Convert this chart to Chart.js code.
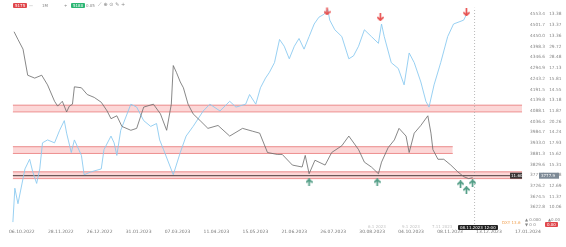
<!DOCTYPE html>
<html>
<head>
<meta charset="utf-8">
<script src="https://cdn.jsdelivr.net/npm/chart.js@4.4.1/dist/chart.umd.min.js"></script>
<style>
  html, body { margin: 0; padding: 0; background: #fff; }
  #wrap { position: relative; width: 566px; height: 247px; overflow: hidden; }
  canvas { display: block; }
  .ov { position: absolute; font-family: "DejaVu Sans", sans-serif; font-size: 4px; line-height: 5px; color: #888; white-space: nowrap; }
  .box { padding: 0 2px; color: #fff; border-radius: 1px; }
</style>
</head>
<body>
<div id="wrap">
  <canvas id="chart" width="566" height="247"></canvas>
  <!-- toolbar -->
  <div class="ov box" style="left:13px;top:3px;background:#e0474c;">5175</div>
  <div class="ov" style="left:29px;top:3px;">—</div>
  <div class="ov" style="left:42px;top:3px;">1M</div>
  <div class="ov" style="left:64px;top:3px;">+</div>
  <div class="ov box" style="left:71px;top:3px;background:#2bb673;">5180</div>
  <div class="ov" style="left:86px;top:3px;">0.05</div>
  <div class="ov" style="left:98px;top:2px;font-size:5px;">⟋ ⊕ ⊙ ✎ +</div>
  <!-- bottom right -->
  <div class="ov" style="left:502px;top:220px;color:#f0a050;">DXY 13.6</div>
  <div class="ov" style="left:525px;top:217px;">▲ 0.000</div>
  <div class="ov" style="left:525px;top:222px;">▼ 0 0</div>
  <div class="ov" style="left:548px;top:217px;">▲0.00</div>
  <div class="ov box" style="left:545px;top:222px;background:#e0474c;">0.00</div>
  <div class="ov box" style="left:458px;top:225px;background:#222;">08.11.2023 12:00</div>
  <div class="ov" style="left:368px;top:224px;color:#c4c4c4;">6.1 2023</div>
  <div class="ov" style="left:402px;top:224px;color:#c4c4c4;">9.1 2023</div>
  <div class="ov" style="left:432px;top:224px;color:#c4c4c4;">7.11 2023</div>
</div>
<script>
// x axis: 10 units per date label
const dateLabels = ["06.10.2022", "28.11.2022", "26.12.2022", "31.01.2023", "07.03.2023", "11.04.2023", "15.05.2023",
  "21.06.2023", "26.07.2023", "30.08.2023", "04.10.2023", "08.11.2023", "13.12.2023", "17.01.2024"];
const datePos = [0, 10, 20, 30, 40, 50, 60, 70, 80, 90, 100, 110, 120, 130];

const priceTicks = [4553.4, 4501.7, 4450.0, 4398.3, 4346.6, 4294.9, 4243.2, 4191.5, 4139.8, 4088.1,
  4036.4, 3984.7, 3933.0, 3881.3, 3829.6, 3777.9, 3726.2, 3674.5, 3622.8];
const ratioTicks = ["13.38", "13.37", "13.36", "29.72", "28.48", "17.13", "15.81", "14.55", "13.18", "11.87",
  "20.26", "14.24", "17.93", "15.62", "15.31", "14.08", "12.69", "11.37", "10.06"];

// light blue series
const blueX = [-2.3, -1.8, -1.0, 0.8, 2.0, 2.8, 3.8, 4.6, 5.3, 6.6, 8.4, 9.7, 10.9, 11.5, 12.7, 13.5, 15.3, 16.0, 17.8,
  20.4, 21.1, 22.9, 23.7, 24.4, 25.4, 28.0, 29.5, 31.3, 33.1, 34.6, 35.4, 36.4, 38.9, 40.7, 42.2, 44.0, 46.6, 48.3,
  50.9, 53.4, 55.0, 57.5, 58.5, 60.1, 61.3, 62.6, 63.6, 64.9, 66.2, 67.4, 68.7, 70.0, 71.2, 72.5, 73.8, 75.1, 76.3,
  77.6, 78.6, 79.1, 80.4, 82.2, 84.0, 85.2, 86.5, 88.0, 89.8, 91.6, 92.4, 93.1, 94.9, 96.7, 98.2, 99.5, 100.8, 102.5,
  103.8, 104.6, 105.9, 107.6, 109.4, 110.9, 113.5, 114.5];
const blueY = [3551.9, 3715.0, 3640.4, 3808.1, 3854.7, 3794.1, 3738.2, 3808.1, 3933.9, 3947.9, 3933.9, 3994.4, 4041.0,
  3980.5, 3887.3, 3947.9, 3873.3, 3780.2, 3794.1, 3808.1, 3901.3, 3966.5, 3933.9, 3873.3, 3994.4, 4120.2, 4106.2,
  4041.0, 4013.1, 4027.0, 3947.9, 3901.3, 3780.2, 3887.3, 3966.5, 4013.1, 4087.6, 4120.2, 4087.6, 4134.2, 4106.2,
  4120.2, 4166.8, 4120.2, 4199.4, 4246.0, 4273.9, 4320.5, 4432.3, 4399.7, 4339.1, 4399.7, 4436.9, 4385.7, 4446.3,
  4506.8, 4539.4, 4553.4, 4576.7, 4525.4, 4478.9, 4446.3, 4339.1, 4353.1, 4399.7, 4478.9, 4446.3, 4413.7, 4506.8,
  4446.3, 4320.5, 4292.5, 4213.4, 4367.1, 4320.5, 4227.3, 4134.2, 4106.2, 4213.4, 4320.5, 4446.3, 4506.8, 4525.4, 4562.7];

// dark series
const darkX = [-2.0, -1.0, 0.3, 1.5, 3.3, 5.1, 6.6, 8.4, 9.2, 10.4, 11.5, 12.2, 13.0, 13.5, 15.3, 16.8, 18.6, 20.4,
  21.9, 22.9, 24.4, 25.7, 28.0, 29.5, 31.3, 33.8, 35.6, 37.2, 38.4, 38.9, 39.7, 40.7, 41.5, 42.7, 44.0, 45.8, 47.8,
  50.4, 53.4, 56.7, 59.3, 61.1, 63.1, 65.6, 66.9, 69.5, 72.0, 72.8, 73.8, 75.3, 77.9, 79.6, 82.2, 84.0, 86.5, 88.0,
  89.8, 91.6, 92.4, 94.1, 95.7, 96.9, 98.7, 99.5, 100.8, 102.5, 104.3, 105.1, 105.6, 106.9, 108.4, 110.2, 112.0,
  113.5, 114.8, 115.8];
const darkY = [4469.5, 4432.3, 4385.7, 4259.9, 4246.0, 4259.9, 4213.4, 4134.2, 4110.9, 4134.2, 4082.9, 4110.9, 4120.2,
  4204.0, 4199.4, 4166.8, 4152.8, 4129.5, 4087.6, 4050.3, 4064.3, 4013.1, 3994.4, 4003.7, 4106.2, 4120.2, 4073.6,
  3994.4, 4120.2, 4306.5, 4273.9, 4227.3, 4199.4, 4120.2, 4073.6, 4041.0, 4003.7, 4017.7, 3966.5, 4003.7, 3989.8,
  3980.5, 3887.3, 3878.0, 3878.0, 3826.7, 3817.4, 3873.3, 3784.8, 3850.0, 3826.7, 3887.3, 3919.9, 3966.5, 3901.3,
  3840.7, 3817.4, 3784.8, 3840.7, 3910.6, 3947.9, 4003.7, 3966.5, 3887.3, 3980.5, 4017.7, 4064.3, 3980.5, 3901.3,
  3854.7, 3854.7, 3826.7, 3794.1, 3770.8, 3761.5, 3766.2];

// zones
const zoneTop = [4115.5, 3915.2, 3794.1];
const zoneBottom = [4083.0, 3882.6, 3761.5];
const zoneStart = [-2.3, -2.3, -2.3];
const zoneEnd = [128.5, 110.7, 128.5];
const levelLine = 3775.5;
const crossX = 116.3;

// arrows
const topArrowX = [78.4, 92.1, 114.2];
const topArrowY = [4567.4, 4539.4, 4562.7];
const lowArrowX = [73.8, 91.3, 112.7, 114.2, 115.8];
const lowArrowY = [3743.0, 3743.0, 3733.6, 3705.6, 3738.2];

const yMin = 3542.6, yMax = 4586.0;
const xMin = -4.33, xMax = 129.26;

function arrowImg(color, down) {
  const c = document.createElement("canvas");
  c.width = 7; c.height = 8;
  const g = c.getContext("2d");
  g.strokeStyle = color; g.lineWidth = 1.7; g.lineCap = "round";
  g.beginPath();
  if (down) {
    g.moveTo(3.5, 0.5); g.lineTo(3.5, 7);
    g.moveTo(0.9, 4.3); g.lineTo(3.5, 7); g.lineTo(6.1, 4.3);
  } else {
    g.moveTo(3.5, 7.5); g.lineTo(3.5, 1);
    g.moveTo(0.9, 3.7); g.lineTo(3.5, 1); g.lineTo(6.1, 3.7);
  }
  g.stroke();
  return c;
}

const pts = (xs, ys) => xs.map((x, i) => ({ x, y: ys[i] }));

const datasets = [
  { data: pts(darkX, darkY), borderColor: "#6a6a6a", borderWidth: 0.8, pointRadius: 0, order: 1 },
  { data: pts(blueX, blueY), borderColor: "#8ccbf0", borderWidth: 0.9, pointRadius: 0, order: 2 },
  { data: pts(topArrowX, topArrowY), showLine: false, pointStyle: arrowImg("#e8504f", true), order: 0 },
  { data: pts(lowArrowX, lowArrowY), showLine: false, pointStyle: arrowImg("#4f9c84", false), order: 0 },
  { data: [{ x: zoneStart[0], y: levelLine }, { x: zoneEnd[0], y: levelLine }], borderColor: "#4a3a3a", borderWidth: 1, pointRadius: 0, order: 3 },
  { data: [{ x: crossX, y: yMin }, { x: crossX, y: yMax }], borderColor: "#aaa", borderWidth: 0.8, borderDash: [1, 2], pointRadius: 0, order: 3 }
];
zoneTop.forEach((t, i) => {
  datasets.push({
    data: [{ x: zoneStart[i], y: t }, { x: zoneEnd[i], y: t }],
    borderColor: "rgba(225,90,90,0.85)", borderWidth: 0.8, pointRadius: 0,
    fill: "+1", backgroundColor: "rgba(246,150,150,0.38)", order: 5
  });
  datasets.push({
    data: [{ x: zoneStart[i], y: zoneBottom[i] }, { x: zoneEnd[i], y: zoneBottom[i] }],
    borderColor: "rgba(225,90,90,0.85)", borderWidth: 0.8, pointRadius: 0, order: 5
  });
});

const tagPlugin = {
  id: "tags",
  afterDraw(chart) {
    const ctx = chart.ctx;
    const y = chart.scales.y.getPixelForValue(levelLine);
    const xr = chart.scales.x.getPixelForValue(zoneEnd[0]);
    ctx.save();
    ctx.font = "4px DejaVu Sans";
    ctx.textBaseline = "middle";
    ctx.fillStyle = "#3a3535";
    ctx.fillRect(xr - 12, y - 3, 12, 6);
    ctx.fillStyle = "#fff";
    ctx.fillText("11.60", xr - 11, y);
    ctx.fillStyle = "#7d8a96";
    ctx.fillRect(539, y - 3, 20, 6);
    ctx.fillStyle = "#fff";
    ctx.fillText("3777.9", 541, y);
    ctx.restore();
  }
};

new Chart(document.getElementById("chart"), {
  type: "line",
  data: { datasets },
  plugins: [tagPlugin],
  options: {
    responsive: false,
    animation: false,
    layout: { padding: 0 },
    plugins: { legend: { display: false }, tooltip: { enabled: false } },
    elements: { line: { tension: 0 } },
    scales: {
      x: {
        type: "linear", min: xMin, max: xMax,
        grid: { display: false, drawTicks: false, tickLength: 0 }, border: { display: false },
        afterBuildTicks: s => { s.ticks = datePos.map(v => ({ value: v })); },
        afterFit: s => { s.height = 23; },
        ticks: {
          autoSkip: false, maxRotation: 0, padding: 5,
          color: "#777", font: { size: 4.5, family: "DejaVu Sans" },
          callback: (v, i) => dateLabels[i]
        }
      },
      y: {
        position: "right", min: yMin, max: yMax,
        grid: { display: false, drawTicks: false, tickLength: 0 }, border: { display: false },
        afterBuildTicks: s => { s.ticks = priceTicks.map(v => ({ value: v })); },
        afterFit: s => { s.width = 41; },
        ticks: {
          autoSkip: false, padding: 5,
          color: "#888", font: { size: 4.3, family: "DejaVu Sans" },
          callback: (v, i) => priceTicks[i].toFixed(1) + "   " + ratioTicks[i]
        }
      }
    }
  }
});
</script>
</body>
</html>
